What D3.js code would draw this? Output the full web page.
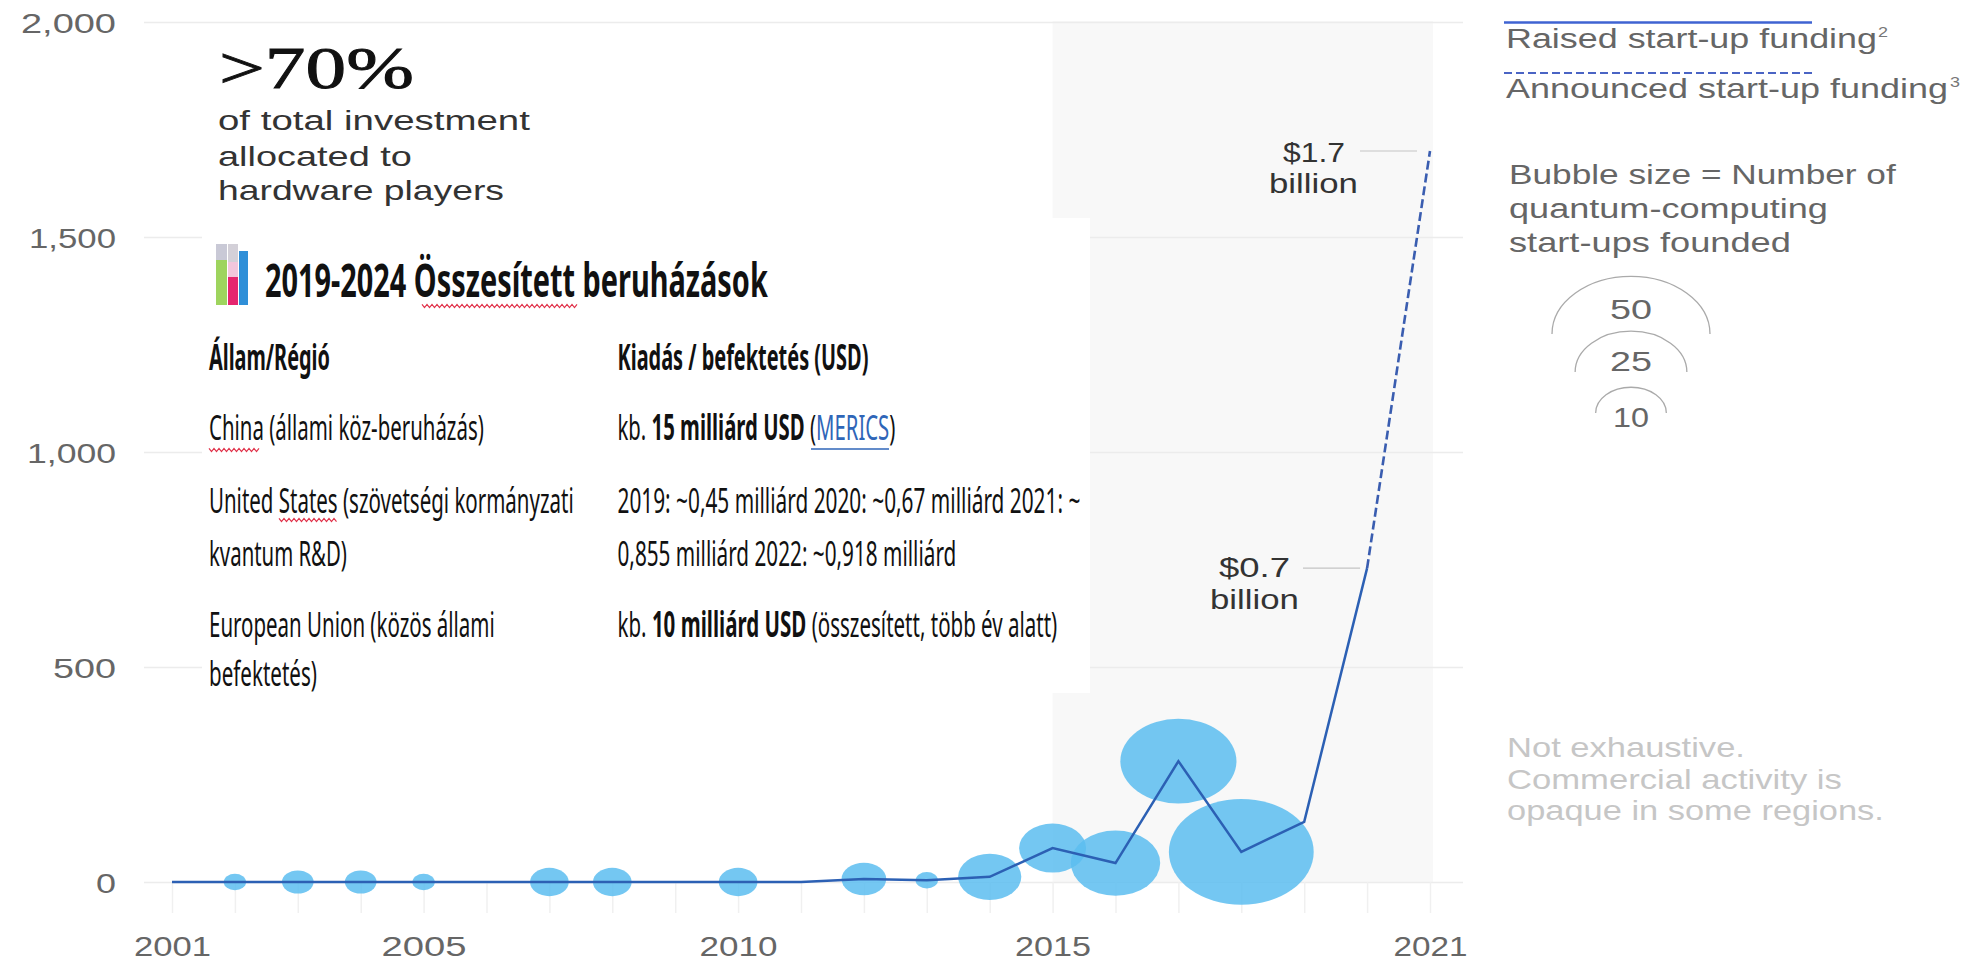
<!DOCTYPE html>
<html>
<head>
<meta charset="utf-8">
<title>Quantum-computing start-up funding</title>
<script src="https://cdn.jsdelivr.net/npm/d3@7/dist/d3.min.js"></script>
<style>
  html, body { margin: 0; padding: 0; background: #fff; overflow: hidden; }
  svg { display: block; }
  text { font-family: "Liberation Sans", Arial, sans-serif; }
  .panel text { font-family: "Noto Sans", "Open Sans", sans-serif; }
</style>
</head>
<body>
<svg id="chart" width="1976" height="964"></svg>
<script>
// Funding in USD millions
const fundingYears = [2001, 2002, 2003, 2004, 2005, 2006, 2007, 2008, 2009, 2010, 2011, 2012, 2013, 2014, 2015, 2016, 2017, 2018, 2019, 2020];
const raisedFunding = [0, 0, 0, 0, 0, 0, 0, 0, 0, 0, 0, 7, 4, 12, 79, 44, 281, 70, 140, 730];
const announcedYears = [2020, 2021];
const announcedFunding = [730, 1700];

// Start-ups founded per year
const bubbleYears = [2002, 2003, 2004, 2005, 2007, 2008, 2010, 2012, 2013, 2014, 2015, 2016, 2017, 2018];
const bubbleCounts = [1, 2, 2, 1, 3, 3, 3, 4, 1, 8, 9, 16, 27, 42];
const legendCounts = [50, 25, 10];

const yTicks = [0, 500, 1000, 1500, 2000];
const xLabelYears = [2001, 2005, 2010, 2015, 2021];
const allYears = d3.range(2001, 2022);

const calloutText = [">70%", "of total investment", "allocated to", "hardware players"];
const legendText = ["Raised start-up funding", "Announced start-up funding"];
const bubbleNote = ["Bubble size = Number of", "quantum-computing", "start-ups founded"];
const disclaimer = ["Not exhaustive.", "Commercial activity is", "opaque in some regions."];

const tableTitle = "2019-2024 Összesített beruházások";
const tableHead = ["Állam/Régió", "Kiadás / befektetés (USD)"];
const tableRegions = ["China (állami köz-beruházás)", "United States (szövetségi kormányzati", "kvantum R&D)", "European Union (közös állami", "befektetés)"];
const usSpending = ["2019: ~0,45 milliárd 2020: ~0,67 milliárd 2021: ~", "0,855 milliárd 2022: ~0,918 milliárd"];
const chinaSpending = ["kb. ", "15 milliárd USD", " (", "MERICS", ")"];
const euSpending = ["kb. ", "10 milliárd USD", " (összesített, több év alatt)"];

const svg = d3.select("#chart");

const x = d3.scaleLinear().domain([2001, 2021]).range([172, 1430]);
const y = d3.scaleLinear().domain([0, 2000]).range([882, 22]);
// The plot is wider than tall per unit, so bubbles are ellipses
const rx = d3.scaleSqrt().domain([0, 50]).range([0, 79]);
const ry = d3.scaleSqrt().domain([0, 50]).range([0, 57.7]);

// Text squeezed or stretched horizontally to a measured width.
// runs: a string, or a list of [string, style] pieces sharing one baseline.
function fit(parent, runs, px, py, width, size, opts = {}) {
  const t = parent.append("text")
    .attr("font-size", size)
    .attr("fill", opts.fill || "#555")
    .attr("font-weight", opts.weight || null)
    .style("white-space", "pre");
  if (opts.family) t.style("font-family", opts.family);
  if (opts.stroke) t.attr("stroke", opts.fill).attr("stroke-width", opts.stroke);
  if (typeof runs === "string") t.text(runs);
  else runs.forEach(([s, st]) => t.append("tspan")
    .attr("font-weight", st.weight || null)
    .attr("fill", st.fill || null)
    .text(s));
  const natural = t.node().getComputedTextLength();
  t.attr("transform", `translate(${px},${py}) scale(${width / natural},1)`);
  return t;
}

// Shaded period from 2015 onward
svg.append("rect")
  .attr("x", x(2015)).attr("y", y(2000) - 1)
  .attr("width", x(2021) + 3 - x(2015)).attr("height", y(0) - y(2000) + 1)
  .attr("fill", "#f8f8f8");

// Y axis with full-width gridlines
const yAxis = svg.append("g")
  .attr("transform", "translate(144,0)")
  .call(d3.axisLeft(y).tickValues(yTicks).tickFormat(d3.format(",")).tickSize(-1319).tickPadding(28));
yAxis.select(".domain").remove();
yAxis.selectAll("line").attr("stroke", "#ececec").attr("stroke-width", 1.5);
const yWidths = { 0: 20, 500: 63, 1000: 89, 1500: 87, 2000: 95 };
yAxis.selectAll("text")
  .attr("font-size", 27).attr("fill", "#666").attr("dy", null).attr("y", 10)
  .attr("textLength", d => yWidths[d]).attr("lengthAdjust", "spacingAndGlyphs")
  .style("font-family", "'Liberation Sans', sans-serif");

// X axis with a faint tick for every year
const xAxis = svg.append("g")
  .attr("transform", `translate(0,${y(0)})`)
  .call(d3.axisBottom(x).tickValues(allYears).tickSize(31)
    .tickFormat(d => xLabelYears.includes(d) ? d : ""));
xAxis.select(".domain").remove();
xAxis.selectAll("line").attr("stroke", "#f0f0f0").attr("stroke-width", 1.5);
const xWidths = { 2001: 77, 2005: 85, 2010: 78, 2015: 76, 2021: 74 };
xAxis.selectAll("text")
  .filter(d => xLabelYears.includes(d))
  .attr("font-size", 27).attr("fill", "#666").attr("dy", null).attr("y", 74)
  .attr("textLength", d => xWidths[d]).attr("lengthAdjust", "spacingAndGlyphs")
  .style("font-family", "'Liberation Sans', sans-serif");

// Bubbles, centred on the funding line
const valueOf = yr => raisedFunding[fundingYears.indexOf(yr)];
svg.append("g").selectAll("ellipse")
  .data(bubbleYears.map((yr, i) => ({ yr, n: bubbleCounts[i] })))
  .join("ellipse")
  .attr("cx", d => x(d.yr))
  .attr("cy", d => y(valueOf(d.yr)))
  .attr("rx", d => rx(d.n))
  .attr("ry", d => ry(d.n))
  .attr("fill", "#5cbdf0")
  .attr("fill-opacity", 0.85);

// Funding lines
const line = d3.line().x(d => x(d[0])).y(d => y(d[1]));
svg.append("path")
  .datum(fundingYears.map((yr, i) => [yr, raisedFunding[i]]))
  .attr("d", line).attr("fill", "none")
  .attr("stroke", "#2c60b4").attr("stroke-width", 2.5).attr("stroke-linejoin", "miter");
svg.append("path")
  .datum(announcedYears.map((yr, i) => [yr, announcedFunding[i]]))
  .attr("d", line).attr("fill", "none")
  .attr("stroke", "#3a5db0").attr("stroke-width", 2.6).attr("stroke-dasharray", "9 4");

// Value callouts derived from the line's end points
const billions = v => `$${d3.format(".1f")(v / 1000)}`;
const lastRaised = announcedFunding[0];
const lastAnnounced = announcedFunding[1];
const ink = "#333";
svg.append("line").attr("x1", 1360).attr("x2", x(2021) - 13)
  .attr("y1", y(lastAnnounced)).attr("y2", y(lastAnnounced))
  .attr("stroke", "#c4c4c4").attr("stroke-width", 1.2);
fit(svg, billions(lastAnnounced), 1283, 162, 62, 28, { fill: ink });
fit(svg, "billion", 1269, 193, 89, 27, { fill: ink });
svg.append("line").attr("x1", 1303).attr("x2", x(2020) - 7)
  .attr("y1", y(lastRaised)).attr("y2", y(lastRaised))
  .attr("stroke", "#c4c4c4").attr("stroke-width", 1.2);
fit(svg, billions(lastRaised), 1219, 577, 71, 28, { fill: ink });
fit(svg, "billion", 1210, 609, 89, 27, { fill: ink });

// Legend for the two funding lines
const legendBlue = "#3f63d2";
svg.append("line").attr("x1", 1504).attr("x2", 1812).attr("y1", 22.5).attr("y2", 22.5)
  .attr("stroke", legendBlue).attr("stroke-width", 2.4);
fit(svg, legendText[0], 1506, 48, 371, 27, { fill: "#666" });
fit(svg, "2", 1878, 37, 10, 15, { fill: "#777" });
svg.append("line").attr("x1", 1504).attr("x2", 1812).attr("y1", 73).attr("y2", 73)
  .attr("stroke", "#4a64c4").attr("stroke-width", 2.2).attr("stroke-dasharray", "8 4");
fit(svg, legendText[1], 1506, 98, 442, 27, { fill: "#666" });
fit(svg, "3", 1950, 87, 10, 15, { fill: "#777" });

// Bubble-size key
const noteWidths = [387, 319, 282];
const noteBaselines = [184, 218, 252];
bubbleNote.forEach((s, i) => fit(svg, s, 1509, noteBaselines[i], noteWidths[i], 27, { fill: "#666" }));

const keyX = 1631;
const keyBase = [334, 372, 413];
const keyLabels = [319, 371, 427];
legendCounts.forEach((n, i) => {
  const a = rx(n), b = ry(n);
  svg.append("path")
    .attr("d", `M${keyX - a},${keyBase[i]} A${a},${b} 0 0 1 ${keyX + a},${keyBase[i]}`)
    .attr("fill", "none").attr("stroke", "#aaa").attr("stroke-width", 1.3);
  fit(svg, String(n), keyX - (n === 10 ? 18 : 21), keyLabels[i], n === 10 ? 36 : 42, 27, { fill: "#666" });
});

// Disclaimer
const discWidths = [238, 335, 377];
const discBaselines = [757, 789, 820];
disclaimer.forEach((s, i) => fit(svg, s, 1507, discBaselines[i], discWidths[i], 27, { fill: "#c6c6c6" }));

// Share callout
fit(svg, calloutText[0], 219, 88, 195, 60, { fill: "#111", stroke: 0.9, family: "'Liberation Serif', serif" });
const calloutWidths = [312, 194, 286];
const calloutBaselines = [130, 166, 200];
[1, 2, 3].forEach((k, i) => fit(svg, calloutText[k], 218, calloutBaselines[i], calloutWidths[i], 27, { fill: "#333" }));

// Investment table panel laid over the plot
const panel = svg.append("g").attr("class", "panel");
panel.append("rect").attr("x", 202).attr("y", 218).attr("width", 888).attr("height", 475).attr("fill", "#fff");

// Chart icon beside the table title
const icon = panel.append("g");
[[216, 244, 11, 16, "#c9c9d6"], [216, 260, 11, 45, "#9ed45e"],
 [228, 244, 10, 18, "#d3d0d8"], [228, 262, 10, 15, "#f2c6dc"], [228, 277, 10, 28, "#e5266f"],
 [239, 251, 9, 54, "#2f8fd8"]]
  .forEach(([ix, iy, w, h, c]) => icon.append("rect").attr("x", ix).attr("y", iy).attr("width", w).attr("height", h).attr("fill", c));

const tableInk = { fill: "#111" };
const tableBold = { fill: "#111", weight: 700 };
fit(panel, tableTitle, 265, 297, 503, 46, tableBold);
fit(panel, tableHead[0], 209, 370, 121, 36, tableBold);
fit(panel, tableHead[1], 617.5, 370, 251, 36, tableBold);

const regionWidths = [275, 365, 138, 286, 108];
const regionBaselines = [440, 513, 566, 637, 686];
tableRegions.forEach((s, i) => fit(panel, s, 209, regionBaselines[i], regionWidths[i], 35, tableInk));

const bold = { weight: 700 };
const plain = {};
fit(panel, [[chinaSpending[0], plain], [chinaSpending[1], bold], [chinaSpending[2], plain],
            [chinaSpending[3], { fill: "#2f66b8" }], [chinaSpending[4], plain]],
    617.5, 440, 278, 35, tableInk);
panel.append("line").attr("x1", 811).attr("x2", 889).attr("y1", 449).attr("y2", 449)
  .attr("stroke", "#2f66b8").attr("stroke-width", 1.5);

fit(panel, usSpending[0], 617.5, 513, 463, 35, tableInk);
fit(panel, usSpending[1], 617.5, 566, 339, 35, tableInk);

fit(panel, [[euSpending[0], plain], [euSpending[1], bold], [euSpending[2], plain]],
    617.5, 637, 440, 35, tableInk);

// Spell-check squiggles under flagged words
function squiggle(x0, x1, yy) {
  const pts = d3.range(x0, x1 + 0.1, 2.5).map((px, i) => [px, yy + (i % 2 ? 1.6 : -1.6)]);
  panel.append("path").attr("d", d3.line()(pts))
    .attr("fill", "none").attr("stroke", "#e0324a").attr("stroke-width", 1.2);
}
squiggle(422, 579, 306);
squiggle(209, 261, 450);
squiggle(279, 337, 520);
</script>
</body>
</html>
